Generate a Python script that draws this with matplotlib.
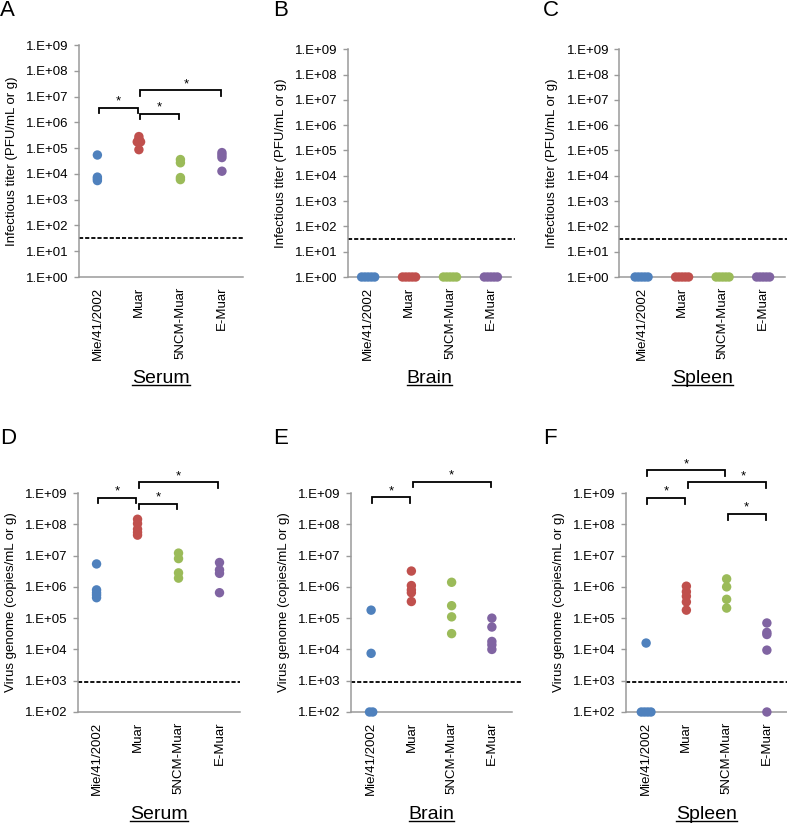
import matplotlib
matplotlib.use('Agg')
import matplotlib.pyplot as plt
from matplotlib.ticker import FixedLocator, NullLocator
from matplotlib.lines import Line2D
import numpy as np

plt.rcParams['font.family'] = ['Liberation Sans', 'DejaVu Sans']

# groups and colours
groups = ['Mie/41/2002', 'Muar', '5NCM-Muar', 'E-Muar']
colors = ['#4F81BD', '#C0504D', '#9BBB59', '#8064A2']

# infectious titer (PFU/mL or g)
titer_serum = [[5.4e4, 7.5e3, 6.5e3, 5.5e3],
               [2.8e5, 2.2e5, 1.75e5, 1.75e5, 8.7e4],
               [3.6e4, 2.7e4, 7.2e3, 6e3],
               [6.7e4, 5.4e4, 4.3e4, 1.27e4]]
titer_brain = [[1, 1, 1, 1, 1], [1, 1, 1, 1, 1], [1, 1, 1, 1, 1], [1, 1, 1, 1, 1]]
titer_spleen = [[1, 1, 1, 1, 1], [1, 1, 1, 1, 1], [1, 1, 1, 1, 1], [1, 1, 1, 1, 1]]
titer_limit = 32

# virus genome (copies/mL or g)
genome_serum = [[5.4e6, 8e5, 6.5e5, 5.5e5, 4.5e5],
                [1.45e8, 1.05e8, 7e7, 5.5e7, 4.5e7],
                [1.2e7, 8e6, 2.8e6, 1.9e6],
                [6e6, 3.5e6, 2.7e6, 6.5e5]]
genome_brain = [[1.8e5, 7.5e3, 100, 100],
                [3.2e6, 1.1e6, 8e5, 6.5e5, 3.4e5],
                [1.4e6, 2.5e5, 1.1e5, 3.2e4],
                [1e5, 5.2e4, 1.8e4, 1.4e4, 1e4]]
genome_spleen = [[1.6e4, 100, 100, 100, 100],
                 [1.05e6, 7e5, 5e5, 3.3e5, 1.8e5],
                 [1.8e6, 1e6, 4e5, 2.1e5],
                 [7e4, 3.5e4, 3e4, 9.5e3, 100]]
genome_limit = 880

# significance brackets: (group i, group j, log10 height)
sig_a = [(0, 1, 6.56), (1, 2, 6.33), (1, 3, 7.24)]
sig_d = [(0, 1, 8.85), (1, 2, 8.66), (1, 3, 9.34)]
sig_e = [(0, 1, 8.86), (1, 3, 9.36)]
sig_f = [(0, 2, 9.72), (1, 3, 9.34), (0, 1, 8.84), (2, 3, 8.32)]

W, H = 787, 824
fig = plt.figure(figsize=(W / 100, H / 100), dpi=100)
gray = '#9a9a9a'

# letter, data, limit, sig, ylabel, title, (left, right, top, bottom) px, xlim, ylog range, dash extension
panels = [
    ('A', titer_serum, titer_limit, sig_a, 'Infectious titer (PFU/mL or g)', 'Serum',
     (78.7, 242.7, 45, 277), (-0.45, 3.5), (0, 9), 1.0),
    ('B', titer_brain, titer_limit, [], 'Infectious titer (PFU/mL or g)', 'Brain',
     (347.7, 511.3, 49.3, 277), (-0.5, 3.5), (0, 9), 1.02),
    ('C', titer_spleen, titer_limit, [], 'Infectious titer (PFU/mL or g)', 'Spleen',
     (619.3, 785.4, 49.3, 277), (-0.55, 3.55), (0, 9), 1.02),
    ('D', genome_serum, genome_limit, sig_d, 'Virus genome (copies/mL or g)', 'Serum',
     (77.7, 240, 493, 712), (-0.46, 3.5), (2, 9), 1.0),
    ('E', genome_brain, genome_limit, sig_e, 'Virus genome (copies/mL or g)', 'Brain',
     (351, 512, 493, 712), (-0.5, 3.5), (2, 9), 1.06),
    ('F', genome_spleen, genome_limit, sig_f, 'Virus genome (copies/mL or g)', 'Spleen',
     (626, 787, 493, 712), (-0.5, 3.5), (2, 9), 1.0),
]

letter_pos = {'A': (0, 0), 'B': (273, 0), 'C': (543, 0), 'D': (0, 428), 'E': (273, 428), 'F': (543, 428)}
title_base = {0: 383, 1: 819}
# stars moved sideways where they would sit on another bracket
star_shift = {('F', 1, 3): 0.42, ('A', 1, 3): 0.15}

texts_to_underline = []

for k, (letter, data, limit, sig, ylabel, title, box, xlim, yr, dash_ext) in enumerate(panels):
    left, right, top, bottom = box
    ax = fig.add_axes([left / W, 1 - bottom / H, (right - left) / W, (bottom - top) / H])
    ax.set_yscale('log')
    ax.set_ylim(10 ** yr[0], 10 ** yr[1])
    ax.set_xlim(*xlim)
    for s in ['top', 'right']:
        ax.spines[s].set_visible(False)
    for s in ['left', 'bottom']:
        ax.spines[s].set_color(gray)
        ax.spines[s].set_linewidth(1.1)
    decs = list(range(yr[0], yr[1] + 1))
    ax.yaxis.set_major_locator(FixedLocator([10.0 ** d for d in decs]))
    ax.yaxis.set_minor_locator(NullLocator())
    ax.set_yticklabels(['1.E+%02d' % d for d in decs])
    ax.set_xticks(range(len(groups)))
    ax.set_xticklabels(groups, rotation=90)
    ax.tick_params(axis='y', direction='out', length=3.3, width=1.0, color=gray, pad=4.0, labelsize=9.5)
    ax.tick_params(axis='x', length=0, pad=7, labelsize=9.5)
    ax.set_ylabel(ylabel, fontsize=9.5)
    ax.yaxis.set_label_coords(-61 / (right - left), 0.5)

    # detection limit
    ax.axhline(limit, xmin=0, xmax=dash_ext, color='black', lw=1.3,
               dashes=(2.3, 1.1), clip_on=False, zorder=2)

    # points, spreading identical values sideways
    for g, vals in enumerate(data):
        vals = np.array(vals, dtype=float)
        xs = np.full(len(vals), float(g))
        for v in np.unique(vals):
            idx = np.where(vals == v)[0]
            n = len(idx)
            xs[idx] = g + (np.arange(n) - (n - 1) / 2) * 0.08
        ax.scatter(xs, vals, s=46, color=colors[g], edgecolors='none',
                   clip_on=False, zorder=3)

    # brackets
    px_per_dec = (bottom - top) / (yr[1] - yr[0])
    leg = 5.5 / px_per_dec
    for i, j, h in sig:
        x0, x1 = i + 0.03, j - 0.03
        ax.plot([x0, x0, x1, x1], [10 ** (h - leg), 10 ** h, 10 ** h, 10 ** (h - leg)],
                color='black', lw=1.3, clip_on=False, solid_joinstyle='miter')
        sx = (x0 + x1) / 2 + star_shift.get((letter, i, j), 0)
        ax.annotate('*', xy=(sx, 10 ** h), xytext=(0, 0.3),
                    textcoords='offset points', ha='center', va='bottom',
                    fontsize=9.5, annotation_clip=False)

    # panel letter
    lx, ly = letter_pos[letter]
    fig.text(lx / W, 1 - ly / H, letter, fontsize=16, va='top', ha='left')

    # tissue title
    cx = (left + right) / 2
    t = fig.text(cx / W, 1 - title_base[k // 3] / H, title, fontsize=14,
                 ha='center', va='baseline')
    texts_to_underline.append(t)

# underline the tissue titles
renderer = fig.canvas.get_renderer()
for t in texts_to_underline:
    bb = t.get_window_extent(renderer=renderer)
    x, y = t.get_position()
    yline = y - 2.4 / H
    fig.add_artist(Line2D([bb.x0 / W, bb.x1 / W], [yline, yline], color='black',
                          lw=1.0, transform=fig.transFigure))

fig.savefig('out.png', dpi=100)
